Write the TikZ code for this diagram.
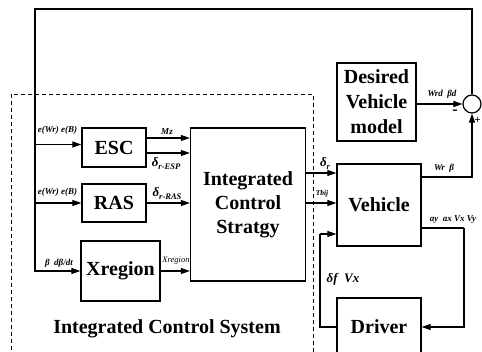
\documentclass[tikz,border=0pt]{standalone}
\usepackage{fontspec}
\setmainfont{Liberation Serif}
\usetikzlibrary{arrows.meta,calc}
\newcommand{\dsub}[2]{{\fontsize{13}{13}\selectfont #1}{\fontsize{8.5}{9}\selectfont\raisebox{-3pt}{#2}}}
\tikzset{
  block/.style={draw, line width=1.3pt, font=\bfseries\fontsize{20}{24}\selectfont, align=center, inner sep=0pt},
  lab/.style={font=\bfseries\itshape\fontsize{9}{10}\selectfont, inner sep=0pt},
  glab/.style={font=\bfseries\itshape, inner sep=0pt},
  arr/.style={-{Triangle[length=9pt,width=6pt]}, line width=1.1pt},
  ln/.style={line width=1.1pt}
}
\begin{document}
\begin{tikzpicture}[x=1pt,y=-1pt]
\useasboundingbox (0,0) rectangle (482,352);
\clip (0,0) rectangle (482,352);
\fill[white] (0,0) rectangle (482,352);
% dashed system boundary
\draw[dashed, line width=0.8pt, dash pattern=on 4pt off 3pt] (11,94) rectangle (313,380);
% blocks
\node[block, minimum width=64pt, minimum height=39pt] (esc) at (114,147.5) {ESC};
\node[block, minimum width=64pt, minimum height=38pt] (ras) at (114,203) {RAS};
\node[block, minimum width=79pt, minimum height=60pt] (xr) at (120.5,271) {Xregion};
\node[block, minimum width=115pt, minimum height=153pt] (ics) at (248,204.5) {Integrated\\Control\\Stratgy};
\node[block, minimum width=79pt, minimum height=78pt, font=\bfseries\fontsize{20}{25}\selectfont] (des) at (376.5,102) {Desired\\Vehicle\\model};
\node[block, minimum width=84pt, minimum height=82pt] (veh) at (379,205) {Vehicle};
\node[block, minimum width=84pt, minimum height=58pt] (drv) at (379,327) {Driver};
\node[draw, circle, line width=1.2pt, minimum size=18pt, inner sep=0pt] (sum) at (472,104) {};
\node[font=\bfseries\fontsize{20}{24}\selectfont, inner sep=0pt] (title) at (167,329) {Integrated Control System};
% coordinates
\coordinate (tl) at (35,9);
\coordinate (escin) at ([yshift=3pt]esc.west);
\coordinate (rasin) at (ras.west);
\coordinate (ics1) at ([yshift=9.5pt]ics.west |- esc.east);
\coordinate (ics2) at ([yshift=-5.5pt]ics.west |- esc.east);
\coordinate (veh1) at ([yshift=32pt]veh.west);
\coordinate (veh2) at ([yshift=2pt]veh.west);
\coordinate (veh3) at ([yshift=-29pt]veh.west);
\coordinate (vo1) at ([yshift=28pt]veh.east);
\coordinate (vo2) at ([yshift=-23pt]veh.east);
\coordinate (rc) at (464,228);
\coordinate (lc) at (320,234);
% feedback loop
\draw[arr] (sum.north) |- (tl) |- (xr.west);
\draw[arr] (tl |- escin) -- (escin);
\draw[arr] (tl |- rasin) -- (rasin);
% into integrated control strategy
\draw[arr] (ics1 -| esc.east) -- (ics1);
\draw[arr] (ics2 -| esc.east) -- (ics2);
\draw[arr] (ras.east) -- (ras.east -| ics.west);
\draw[arr] (xr.east) -- (xr.east -| ics.west);
% to vehicle
\draw[arr] (veh1 -| ics.east) -- (veh1);
\draw[arr] (veh2 -| ics.east) -- (veh2);
% desired / sum
\draw[arr] (sum.west -| des.east) -- (sum.west);
\draw[arr] (vo1) -| (sum.south);
% vehicle <-> driver
\draw[ln] (vo2) -- (rc);
\draw[arr] (rc) |- (drv.east);
\draw[ln] (drv.west) -| (lc);
\draw[arr] (lc) -- (veh3);
% labels
\node[lab] (l1) at (57.5,130) {e(Wr) e(B)};
\node[lab] (l2) at (57.5,192) {e(Wr) e(B)};
\node[lab] (l3) at (59,263) {β\ \ dβ/dt};
\node[lab] (l4) at (167,132) {Mz};
\node[glab] (l5) at (166,164) {\dsub{δ}{r-ESP}};
\node[glab] (l6) at (167,194) {\dsub{δ}{r-RAS}};
\node[font=\itshape\fontsize{8.5}{9}\selectfont, inner sep=0pt] (l7) at (176,261) {Xregion};
\node[glab] (l8) at (325,163) {\dsub{δ}{r}};
\node[lab, font=\bfseries\itshape\fontsize{7.5}{8}\selectfont] (l9) at (322,194) {Tbij};
\node[lab] (l10) at (442,94) {Wrd\ \ βd};
\node[font=\bfseries\fontsize{16}{16}\selectfont, inner sep=0pt] (l11) at (455,112) {-};
\node[font=\bfseries\fontsize{11}{11}\selectfont, inner sep=0pt] (l12) at (477.5,120) {+};
\node[lab] (l13) at (444,168) {Wr\ \ β};
\node[lab] (l14) at (453,220) {ay\ \ ax Vx Vy};
\node[glab, font=\bfseries\itshape\fontsize{13}{13}\selectfont] (l15) at (343,279) {δf\ \ Vx};
\end{tikzpicture}
\end{document}
